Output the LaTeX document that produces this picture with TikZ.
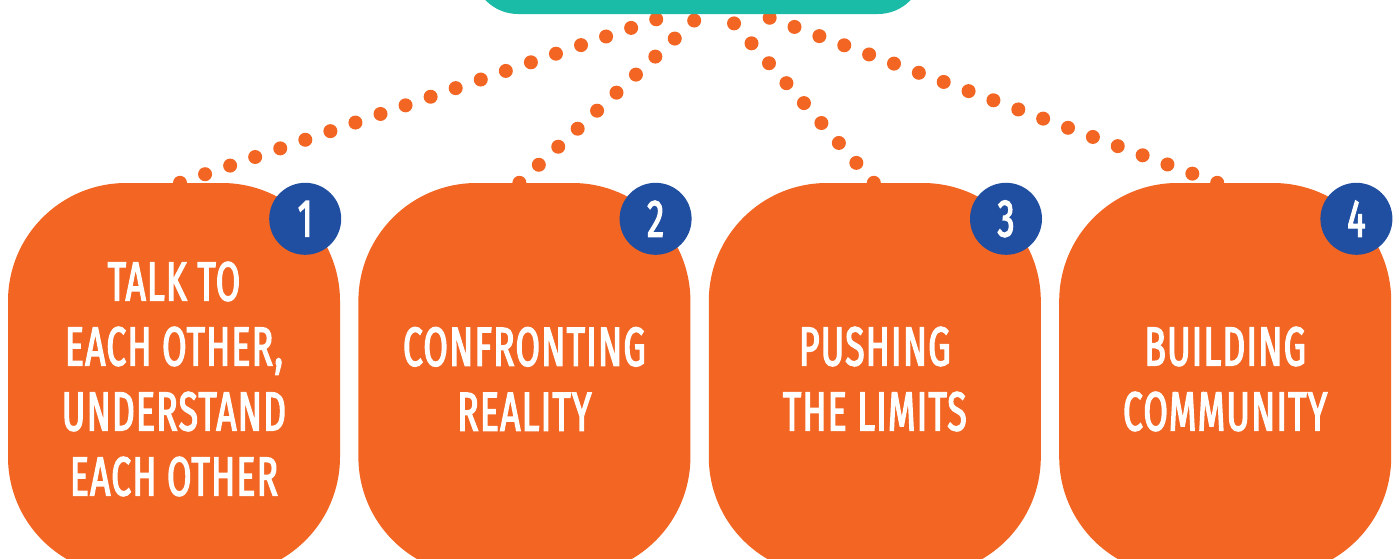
\documentclass[tikz,border=0pt]{standalone}
\usepackage{fontspec}
\usetikzlibrary{positioning, backgrounds}
\newfontfamily\boxfont{Fira Sans}[FakeStretch=0.64, LetterSpace=2.5, FakeBold=2.5]
\definecolor{boxorange}{RGB}{242,101,34}
\definecolor{goalteal}{RGB}{26,187,167}
\definecolor{badgeblue}{RGB}{32,78,161}

\begin{document}
\begin{tikzpicture}[x=1pt, y=-1pt,
    stepbox/.style={rectangle, fill=boxorange, rounded corners=118pt, minimum width=332pt, minimum height=392pt, inner sep=0pt, text=white, align=center, font=\boxfont\fontsize{55}{65}\selectfont},
    badge/.style={circle, fill=badgeblue, minimum size=72pt, inner sep=0pt, text=white, font=\boxfont\fontsize{53}{53}\selectfont},
    dotline/.style={draw=boxorange, line width=14pt, line cap=round, dash pattern=on 0pt off 26.5pt}]
        \useasboundingbox (0,0) rectangle (1399,558);

        \node[rectangle, fill=goalteal, rounded corners=45pt, minimum width=450pt, minimum height=120pt] (goal) at (698,-46) {};

        \node[stepbox] (b1) at (174,379) {TALK TO\\EACH OTHER,\\UNDERSTAND\\EACH OTHER};
        \node[stepbox, right=18pt of b1] (b2) {CONFRONTING\\REALITY};
        \node[stepbox, right=18pt of b2] (b3) {PUSHING\\THE LIMITS};
        \node[stepbox, right=18pt of b3] (b4) {BUILDING\\COMMUNITY};

        %number badges
        \node[badge] (n1) at ([xshift=-35pt, yshift=-36pt]b1.north east) {1};
        \node[badge] (n2) at ([xshift=-35pt, yshift=-36pt]b2.north east) {2};
        \node[badge] (n3) at ([xshift=-35pt, yshift=-36pt]b3.north east) {3};
        \node[badge] (n4) at ([xshift=-35pt, yshift=-36pt]b4.north east) {4};

        % Draw dotted links under the boxes
        \begin{scope}[on background layer]
        \draw[dotline] ([xshift=6pt]b1.north) -- ([xshift=-27pt]goal.south);
        \draw[dotline] ([xshift=-5pt]b2.north) -- ([xshift=3pt]goal.south);
        \draw[dotline] ([xshift=-1pt]b3.north) -- ([xshift=28pt]goal.south);
        \draw[dotline] ([xshift=-8pt]b4.north) -- ([xshift=62pt]goal.south);
        \end{scope}
    \end{tikzpicture}
\end{document}
